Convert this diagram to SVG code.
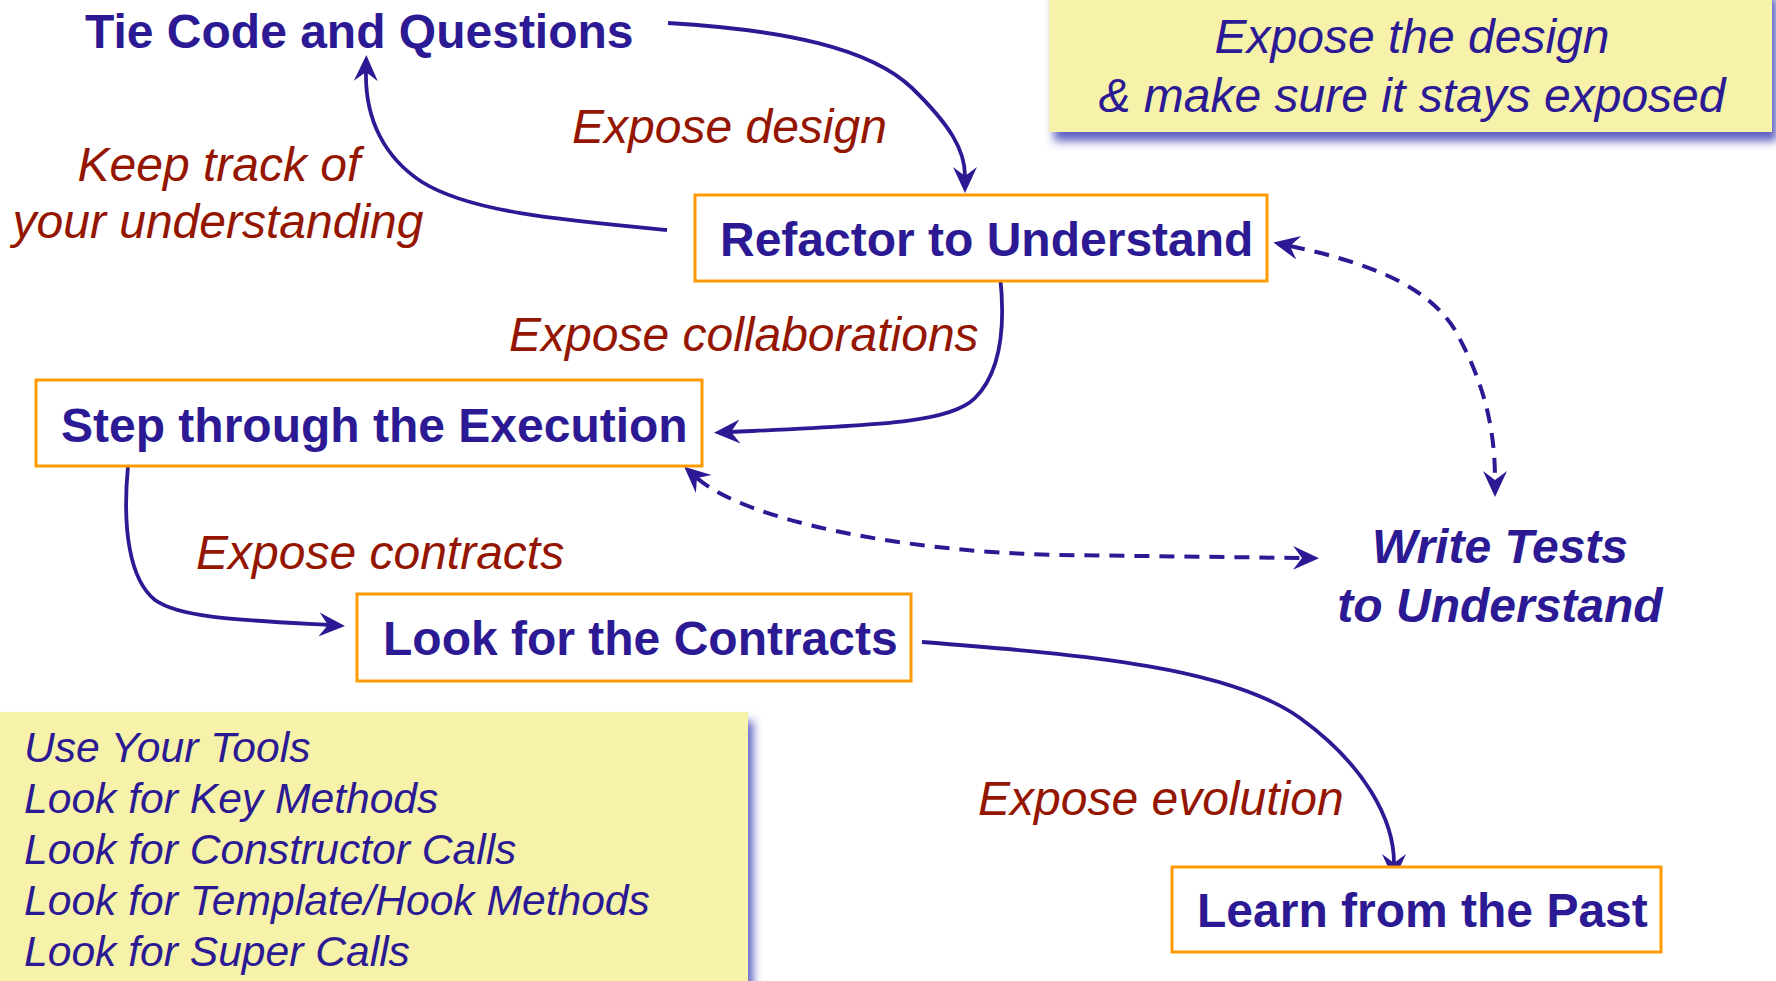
<svg xmlns="http://www.w3.org/2000/svg" width="1776" height="981" viewBox="0 0 1776 981">
  <style>
    .box { fill: #ffffff; stroke: #FF9A05; stroke-width: 3; }
    .node { font-family: "Liberation Sans", Arial, sans-serif; font-weight: bold; font-size: 48px; fill: #2B1A93; }
    .label { font-family: "Liberation Sans", Arial, sans-serif; font-style: italic; font-size: 48px; fill: #951600; }
    .note { fill: #F7F2A9; }
    .notetext { font-family: "Liberation Sans", Arial, sans-serif; font-style: italic; fill: #2B1A93; }
    .link { fill: none; stroke: #2B1A93; stroke-width: 3.8; }
    .dashed { stroke-dasharray: 15 10; stroke-width: 4; }
  </style>
  <defs>
    <marker id="arrow" markerUnits="userSpaceOnUse" markerWidth="32" markerHeight="32" viewBox="0 -16 32 32" refX="9" refY="0" orient="auto-start-reverse">
      <path d="M 26 0 L 0 -12 L 9 0 L 0 12 Z" fill="#2B1A93"/>
    </marker>
    <filter id="shadow" x="-10%" y="-20%" width="125%" height="150%">
      <feDropShadow dx="5" dy="9" stdDeviation="5" flood-color="#3F42B5" flood-opacity="0.85"/>
    </filter>
  </defs>

  <rect width="1776" height="981" fill="#ffffff"/>

  <!-- sticky notes -->
  <g id="note-design">
    <rect class="note" x="1049" y="-12" width="723" height="144" filter="url(#shadow)"/>
    <text class="notetext" font-size="48" text-anchor="middle" x="1412" y="53">Expose the design</text>
    <text class="notetext" font-size="48" text-anchor="middle" x="1412" y="112">&amp; make sure it stays exposed</text>
  </g>

  <g id="note-tools">
    <rect class="note" x="-12" y="712" width="760" height="290" filter="url(#shadow)"/>
    <text class="notetext" font-size="42.6" x="24" y="762">Use Your Tools</text>
    <text class="notetext" font-size="42.6" x="24" y="813">Look for Key Methods</text>
    <text class="notetext" font-size="42.6" x="24" y="864">Look for Constructor Calls</text>
    <text class="notetext" font-size="42.6" x="24" y="915">Look for Template/Hook Methods</text>
    <text class="notetext" font-size="42.6" x="24" y="966">Look for Super Calls</text>
  </g>

  <!-- connectors -->
  <g id="connectors">
    <path class="link" d="M 668 23 C 785 30, 870 48, 912 88 C 950 125, 965 150, 965 176" marker-end="url(#arrow)"/>
    <path class="link" d="M 667 230 C 560 220, 470 212, 422 182 C 385 158, 365 120, 366 72" marker-end="url(#arrow)"/>
    <path class="link" d="M 1000 275 C 1005 320, 1003 370, 975 398 C 950 423, 880 425, 731 432" marker-end="url(#arrow)"/>
    <path class="link" d="M 128 466 C 122 530, 130 580, 155 600 C 180 618, 240 620, 328 625" marker-end="url(#arrow)"/>
    <path class="link" d="M 922 642 C 1090 655, 1230 668, 1300 718 C 1365 765, 1394 820, 1394 863" marker-end="url(#arrow)"/>
    <path class="link dashed" d="M 1290 246 C 1380 265, 1430 290, 1455 330 C 1480 375, 1495 420, 1495 480" marker-start="url(#arrow)" marker-end="url(#arrow)"/>
    <path class="link dashed" d="M 697 478 C 745 520, 900 552, 1060 555 L 1302 558" marker-start="url(#arrow)" marker-end="url(#arrow)"/>
  </g>

  <!-- connector labels -->
  <g id="labels">
    <text class="label" x="572" y="143">Expose design</text>
    <text class="label" text-anchor="middle" x="219" y="181">Keep track of</text>
    <text class="label" text-anchor="middle" x="218" y="238">your understanding</text>
    <text class="label" x="509" y="351">Expose collaborations</text>
    <text class="label" x="196" y="569">Expose contracts</text>
    <text class="label" x="978" y="815">Expose evolution</text>
  </g>

  <!-- nodes -->
  <g id="tie-code">
    <text class="node" x="85" y="48">Tie Code and Questions</text>
  </g>

  <g id="refactor">
    <rect class="box" x="695" y="195" width="572" height="86"/>
    <text class="node" x="720" y="256">Refactor to Understand</text>
  </g>

  <g id="step-through">
    <rect class="box" x="36" y="380" width="666" height="86"/>
    <text class="node" x="61" y="442">Step through the Execution</text>
  </g>

  <g id="contracts">
    <rect class="box" x="357" y="594" width="554" height="87"/>
    <text class="node" x="383" y="655">Look for the Contracts</text>
  </g>

  <g id="write-tests">
    <text class="node" font-style="italic" text-anchor="middle" x="1500" y="563">Write Tests</text>
    <text class="node" font-style="italic" text-anchor="middle" x="1500" y="622">to Understand</text>
  </g>

  <g id="learn-past">
    <rect class="box" x="1172" y="867" width="489" height="85"/>
    <text class="node" x="1197" y="927">Learn from the Past</text>
  </g>
</svg>
